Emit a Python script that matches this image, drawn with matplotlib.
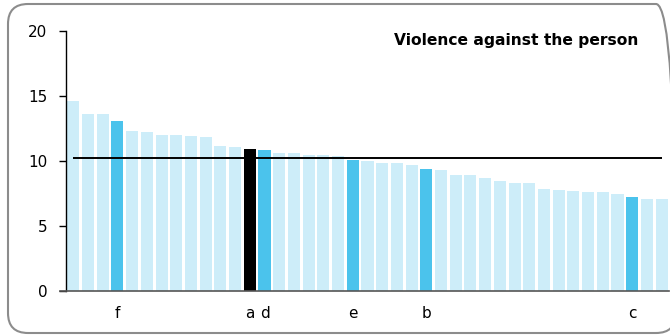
import numpy as np
import matplotlib.pyplot as plt
from matplotlib.patches import FancyBboxPatch

plt.rcParams['font.family'] = ['DejaVu Sans']

# rate per area, sorted descending
values = [14.6, 13.6, 13.6, 13.1, 12.3, 12.2, 12.0, 12.0, 11.9, 11.8,
          11.15, 11.05, 10.9, 10.85, 10.6, 10.6, 10.45, 10.45, 10.4, 10.1,
          10.0, 9.85, 9.8, 9.7, 9.35, 9.3, 8.95, 8.9, 8.7, 8.45,
          8.3, 8.3, 7.8, 7.75, 7.7, 7.6, 7.6, 7.45, 7.2, 7.1, 7.1]
highlight = {3: 'f', 12: 'a', 13: 'd', 19: 'e', 24: 'b', 38: 'c'}
selected = 12
average = 10.25
title = 'Violence against the person'

light = '#cdedf9'
mid = '#4bc3ec'

fig = plt.figure(figsize=(6.7, 3.35), dpi=100)
ax = fig.add_axes([65.5/670, 1 - 291/335, (669 - 65.5)/670, (291 - 30.7)/335])

x = np.arange(len(values))
colors = []
for i in x:
    if i == selected:
        colors.append('black')
    elif i in highlight:
        colors.append(mid)
    else:
        colors.append(light)
ax.bar(x, values, width=0.82, color=colors, zorder=2)
ax.hlines(average, 0, len(values) - 1, color='black', lw=1.4, zorder=3)

ax.set_xlim(-0.53, len(values) - 0.5)
ax.set_ylim(0, 20)
ax.set_yticks([0, 5, 10, 15, 20])
ax.tick_params(axis='y', length=5, width=1, labelsize=11, pad=8)
ks = sorted(highlight)
ax.set_xticks(ks)
ax.set_xticklabels([highlight[k] for k in ks])
ax.tick_params(axis='x', length=0, labelsize=11, pad=11)

for s in ['top', 'right']:
    ax.spines[s].set_visible(False)
ax.spines['left'].set_linewidth(1)
ax.spines['bottom'].set_color('#555555')
ax.spines['bottom'].set_linewidth(1.2)
ax.spines['bottom'].set_bounds(-0.9, len(values) - 0.5)
ax.spines['bottom'].set_zorder(4)

ax.text(0.949, 0.99, title, transform=ax.transAxes, ha='right', va='top',
        fontsize=11.2, fontweight='bold')

border = FancyBboxPatch((0.08, 0.02), 6.68, 3.29,
                        boxstyle='round,pad=0,rounding_size=0.2',
                        transform=fig.dpi_scale_trans, fill=False,
                        edgecolor='#8c8c8c', lw=1.5, clip_on=False)
fig.patches.append(border)

fig.savefig('out.png', dpi=100)
